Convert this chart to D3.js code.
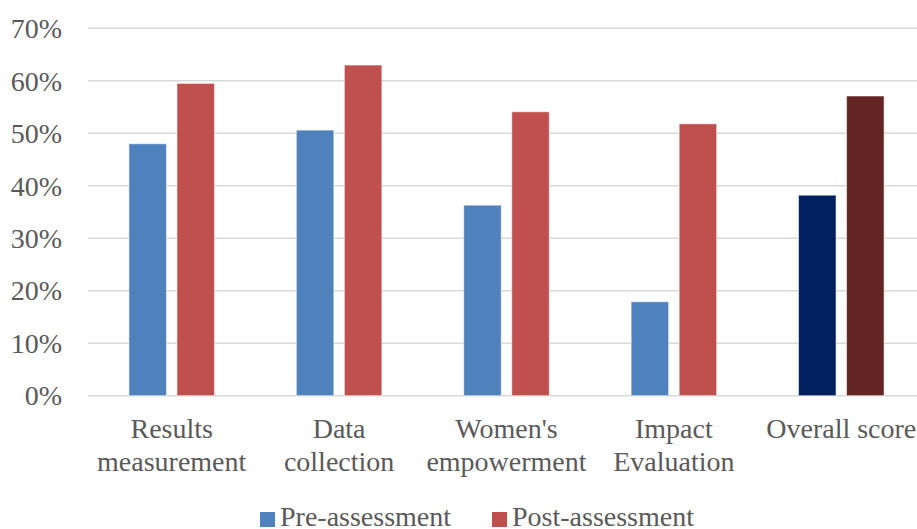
<!DOCTYPE html>
<html>
<head>
<meta charset="utf-8">
<script src="https://cdn.jsdelivr.net/npm/d3@7"></script>
<style>
  html, body { margin: 0; padding: 0; background: #fff; }
  svg { display: block; }
</style>
</head>
<body>
<svg id="chart" width="917" height="529"></svg>
<script>
const categories = [["Results", "measurement"], ["Data", "collection"], ["Women's", "empowerment"], ["Impact", "Evaluation"], ["Overall score"]];
const seriesNames = ["Pre-assessment", "Post-assessment"];
const preValues = [0.48, 0.506, 0.363, 0.179, 0.382];
const postValues = [0.595, 0.630, 0.541, 0.518, 0.571];
const yTicks = [0, 0.1, 0.2, 0.3, 0.4, 0.5, 0.6, 0.7];

const svg = d3.select("#chart");
const font = "'Liberation Serif', 'Times New Roman', serif";
const textColor = "#595959";

const x0 = d3.scaleBand().domain(d3.range(categories.length)).range([88, 925]).paddingInner(0.489).paddingOuter(0.2445);
const x1 = d3.scaleBand().domain(seriesNames).range([0, x0.bandwidth()]).paddingInner(0.219);
const y = d3.scaleLinear().domain([0, 0.7]).range([395.7, 28.3]);

const normalColors = {"Pre-assessment": "#4F81BD", "Post-assessment": "#C0504D"};
const overallColors = {"Pre-assessment": "#002060", "Post-assessment": "#632523"};

// gridlines
svg.append("g").selectAll("line").data(yTicks).join("line")
  .attr("x1", 88).attr("x2", 917)
  .attr("y1", d => y(d)).attr("y2", d => y(d))
  .attr("stroke", "#D9D9D9").attr("stroke-width", 1.5);

// y axis labels
const yAxis = d3.axisLeft(y).tickValues(yTicks).tickFormat(d3.format(".0%")).tickSize(0).tickPadding(0);
const gy = svg.append("g").attr("transform", "translate(62,0)").call(yAxis);
gy.select(".domain").remove();
gy.selectAll("text").attr("font-family", font).attr("font-size", 28).attr("fill", textColor).attr("dy", "0.33em");

// bars
const rows = categories.map((c, i) => ({i, vals: [
  {s: seriesNames[0], v: preValues[i]},
  {s: seriesNames[1], v: postValues[i]}
]}));
const groups = svg.append("g").selectAll("g").data(rows).join("g")
  .attr("transform", d => `translate(${x0(d.i)},0)`);
groups.selectAll("rect").data(d => d.vals.map(v => ({...v, i: d.i}))).join("rect")
  .attr("x", d => x1(d.s))
  .attr("width", x1.bandwidth())
  .attr("y", d => y(d.v))
  .attr("height", d => y(0) - y(d.v))
  .attr("fill", d => (d.i === categories.length - 1 ? overallColors : normalColors)[d.s])
  .attr("stroke", "#ffffff").attr("stroke-opacity", 0.55).attr("stroke-width", 1);

// category labels
const xl = svg.append("g").selectAll("text").data(categories.map((c, i) => ({c, i}))).join("text")
  .attr("x", d => x0(d.i) + x0.bandwidth() / 2)
  .attr("y", 438)
  .attr("text-anchor", "middle")
  .attr("font-family", font).attr("font-size", 28).attr("fill", textColor);
xl.selectAll("tspan").data(d => d.c.map(t => ({t, x: x0(d.i) + x0.bandwidth() / 2}))).join("tspan")
  .attr("x", d => d.x)
  .attr("dy", (d, j) => j === 0 ? 0 : 33)
  .text(d => d.t);

// legend
const legendX = [260, 492];
const lg = svg.append("g").selectAll("g").data(seriesNames).join("g")
  .attr("transform", (d, i) => `translate(${legendX[i]},0)`);
lg.append("rect").attr("x", 0).attr("y", 512).attr("width", 15).attr("height", 15)
  .attr("fill", d => normalColors[d]);
lg.append("text").attr("x", 20).attr("y", 526)
  .attr("font-family", font).attr("font-size", 28).attr("fill", textColor)
  .text(d => d);
</script>
</body>
</html>
